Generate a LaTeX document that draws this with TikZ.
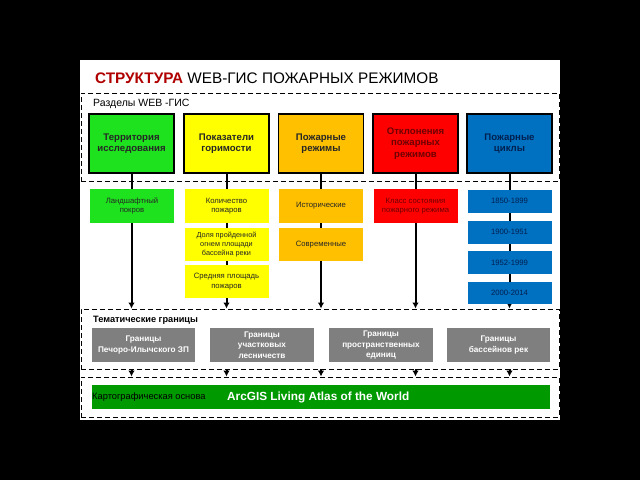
\documentclass[tikz,border=0pt]{standalone}
\usepackage{fontspec}
\setmainfont{Liberation Sans}
\usetikzlibrary{arrows.meta}
\definecolor{cgreen}{HTML}{1EE21E}
\definecolor{cyellow}{HTML}{FFFF00}
\definecolor{corange}{HTML}{FFC000}
\definecolor{cred}{HTML}{FF0000}
\definecolor{cblue}{HTML}{0070C0}
\definecolor{cgray}{HTML}{7F7F7F}
\definecolor{cbar}{HTML}{009900}
\definecolor{titlered}{HTML}{B00000}
\definecolor{darkred}{HTML}{6E0000}
\definecolor{navy}{HTML}{002050}
\definecolor{textdark}{HTML}{262626}
\begin{document}
\begin{tikzpicture}[x=1pt,y=-1pt,
  topbox/.style={draw=black, line width=1.1pt, minimum width=85pt, minimum height=59pt,
    align=center, inner sep=1pt, font=\fontsize{9.6}{11.5}\selectfont\bfseries},
  subbox/.style={minimum width=84pt, align=center, inner sep=1pt, text=textdark,
    font=\fontsize{7.7}{9.5}\selectfont},
  graybox/.style={fill=cgray, text=white, minimum height=34pt, align=center, inner sep=1pt,
    font=\fontsize{8.2}{10.5}\selectfont\bfseries},
  secbox/.style={draw=black, line width=0.9pt, dash pattern=on 5pt off 3pt,
    minimum width=478pt, inner sep=0pt},
  conn/.style={line width=2pt, -{Latex[length=6pt,width=6.5pt]}},
  seclabel/.style={anchor=base west, inner sep=0pt}
]
\fill[black] (0,0) rectangle (640,480);
\fill[white] (80,60) rectangle (560,420);

% title
\node[anchor=base west, inner sep=0pt, font=\fontsize{15.3}{18}\selectfont] (title) at (95,83)
  {{\color{titlered}\bfseries СТРУКТУРА} WEB-ГИС ПОЖАРНЫХ РЕЖИМОВ};

% sections
\node[secbox, minimum height=88pt] (sec1) at (320,137) {};
\node[secbox, minimum height=60pt] (sec3) at (320,339) {};
\node[secbox, minimum height=40pt] (sec4) at (320,397) {};
\node[seclabel, font=\fontsize{10.5}{12}\selectfont] (lab1) at (93,106.5) {Разделы WEB -ГИС};
\node[seclabel, font=\fontsize{9.2}{11}\selectfont\bfseries] (lab3) at (93,322) {Тематические границы};

% top boxes
\node[topbox, fill=cgreen, text=textdark] (t1) at (131.5,143.5) {Территория\\исследования};
\node[topbox, fill=cyellow, text=textdark] (t2) at (226.5,143.5) {Показатели\\горимости};
\node[topbox, fill=corange, text=textdark] (t3) at (321,143.5) {Пожарные\\режимы};
\node[topbox, fill=cred, text=darkred] (t4) at (415.5,143.5) {Отклонения\\пожарных\\режимов};
\node[topbox, fill=cblue, text=navy] (t5) at (509.5,143.5) {Пожарные\\циклы};

% connectors
\foreach \t in {t1,t2,t3,t4,t5}{
  \draw[conn] (\t.south) -- (\t.south |- sec3.north);
  \draw[conn] (\t.south |- sec3.south) -- (\t.south |- sec4.north);
}

% second-level boxes
\node[subbox, fill=cgreen, minimum height=34pt] (g1) at (132,206) {Ландшафтный\\покров};
\node[subbox, fill=cyellow, minimum height=34pt] (y1) at (226.5,206) {Количество\\пожаров};
\node[subbox, fill=cyellow, minimum height=33pt, font=\fontsize{7.3}{9.3}\selectfont] (y2) at (226.5,244.5) {Доля пройденной\\огнем площади\\бассейна реки};
\node[subbox, fill=cyellow, minimum height=33pt] (y3) at (226.5,281.5) {Средняя площадь\\пожаров};
\node[subbox, fill=corange, minimum height=34pt] (o1) at (321,206) {Исторические};
\node[subbox, fill=corange, minimum height=33pt] (o2) at (321,244.5) {Современные};
\node[subbox, fill=cred, text=darkred, minimum height=34pt] (r1) at (415.5,206) {Класс состояния\\пожарного режима};
\node[subbox, fill=cblue, text=navy, minimum height=23pt] (b1) at (509.5,201) {1850-1899};
\node[subbox, fill=cblue, text=navy, minimum height=23pt] (b2) at (509.5,232) {1900-1951};
\node[subbox, fill=cblue, text=navy, minimum height=23pt] (b3) at (509.5,262.5) {1952-1999};
\node[subbox, fill=cblue, text=navy, minimum height=22pt] (b4) at (509.5,292.5) {2000-2014};

% thematic boundaries
\node[graybox, minimum width=103pt] (gr1) at (143.5,345) {Границы\\Печоро-Илычского ЗП};
\node[graybox, minimum width=104pt] (gr2) at (262,345) {Границы\\участковых\\лесничеств};
\node[graybox, minimum width=104pt] (gr3) at (381,345) {Границы\\пространственных\\единиц};
\node[graybox, minimum width=103pt] (gr4) at (498.5,345) {Границы\\бассейнов рек};

% base map bar
\node[fill=cbar, minimum width=458pt, minimum height=24pt, inner sep=0pt] (bar) at (321,397) {};
\node[anchor=west, inner sep=0pt, font=\fontsize{9.3}{11}\selectfont, text=black] (barlab) at (92,397) {Картографическая основа};
\node[anchor=west, inner sep=0pt, font=\fontsize{11.8}{13}\selectfont\bfseries, text=white] (atlas) at (227,397) {ArcGIS Living Atlas of the World};
\end{tikzpicture}
\end{document}
